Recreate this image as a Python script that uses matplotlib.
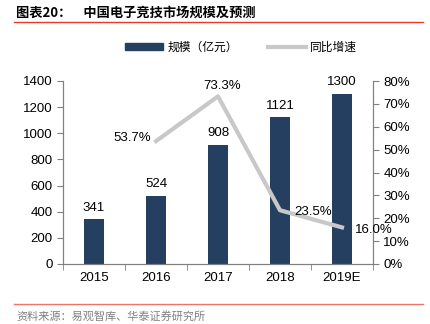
import matplotlib
matplotlib.use("Agg")
import matplotlib.pyplot as plt
from matplotlib.lines import Line2D
from matplotlib.patches import Patch
import numpy as np

plt.rcParams['font.family'] = ['Liberation Sans', 'Noto Sans CJK SC', 'DejaVu Sans']

years = ['2015', '2016', '2017', '2018', '2019E']
scale = [341, 524, 908, 1121, 1300]
growth_years = ['2016', '2017', '2018', '2019E']
growth = [53.7, 73.3, 23.5, 16.0]

bar_color = '#243F60'
line_color = '#C8C8C8'
axis_color = '#808080'

fig = plt.figure(figsize=(4.31, 3.24), dpi=100)
ax = fig.add_axes([63 / 431, 1 - 264 / 324, 310 / 431, 183 / 324])
ax2 = ax.twinx()

x = np.arange(len(years))
ax.bar(x, scale, width=0.33, color=bar_color, zorder=2)
for xi, v in zip(x, scale):
    ax.text(xi, v + 45, str(v), ha='center', va='bottom', fontsize=9.5)

gx = [years.index(y) for y in growth_years]
ax2.plot(gx, growth, color=line_color, lw=3, zorder=3)
# label offsets (category units, percent points)
offsets = [(-0.39, 1.6), (0.07, 4.4), (0.54, -0.7), (0.52, -1.1)]
for xi, v, (dx, dy) in zip(gx, growth, offsets):
    ax2.text(xi + dx, v + dy, f'{v:.1f}%', ha='center', va='center', fontsize=9.5, zorder=4)

ax.set_xlim(-0.5, len(years) - 0.5)
ax.set_ylim(0, 1400)
ax.set_yticks(range(0, 1401, 200))
ax2.set_ylim(0, 80)
ax2.set_yticks(range(0, 81, 10))
ax2.set_yticklabels([f'{t}%' for t in range(0, 81, 10)])
ax.set_xticks(x)
ax.set_xticklabels(years)
ax.set_xticks(np.arange(-0.5, len(years), 1), minor=True)
ax.tick_params(axis='x', which='major', length=0, labelsize=9.5, pad=6)
ax.tick_params(axis='x', which='minor', length=4, color=axis_color, direction='out')
ax.tick_params(axis='y', labelsize=9.5, length=4, color=axis_color)
ax2.tick_params(axis='y', labelsize=9.5, length=4, color=axis_color)

for a in (ax, ax2):
    a.spines['top'].set_visible(False)
    for s in ('left', 'right', 'bottom'):
        a.spines[s].set_color(axis_color)

handles = [Patch(color=bar_color), Line2D([], [], color=line_color, lw=3)]
fig.legend(handles, ['规模（亿元）', '同比增速'], loc='center', bbox_to_anchor=(0.56, 1 - 47 / 324),
           ncol=2, frameon=False, handlelength=3.2, handleheight=0.5, columnspacing=2.5,
           handletextpad=0.4, prop={'family': ['Noto Sans CJK SC'], 'size': 8.5})

fig.text(16 / 431, 1 - 13 / 324, '图表20：    中国电子竞技市场规模及预测', fontsize=9.5, fontweight='bold',
         va='center', ha='left', family=['Noto Sans CJK SC'])
fig.add_artist(Line2D([14 / 431, 423 / 431], [1 - 22 / 324, 1 - 22 / 324], color='#E8392B', lw=1))
fig.add_artist(Line2D([14 / 431, 423 / 431], [1 - 304 / 324, 1 - 304 / 324], color='#E8392B', lw=1, alpha=0.7))
fig.text(16 / 431, 1 - 316 / 324, '资料来源：易观智库、华泰证券研究所', fontsize=8, color='#808080',
         va='center', ha='left', family=['Noto Sans CJK SC'])

fig.savefig('out.png', dpi=100)
